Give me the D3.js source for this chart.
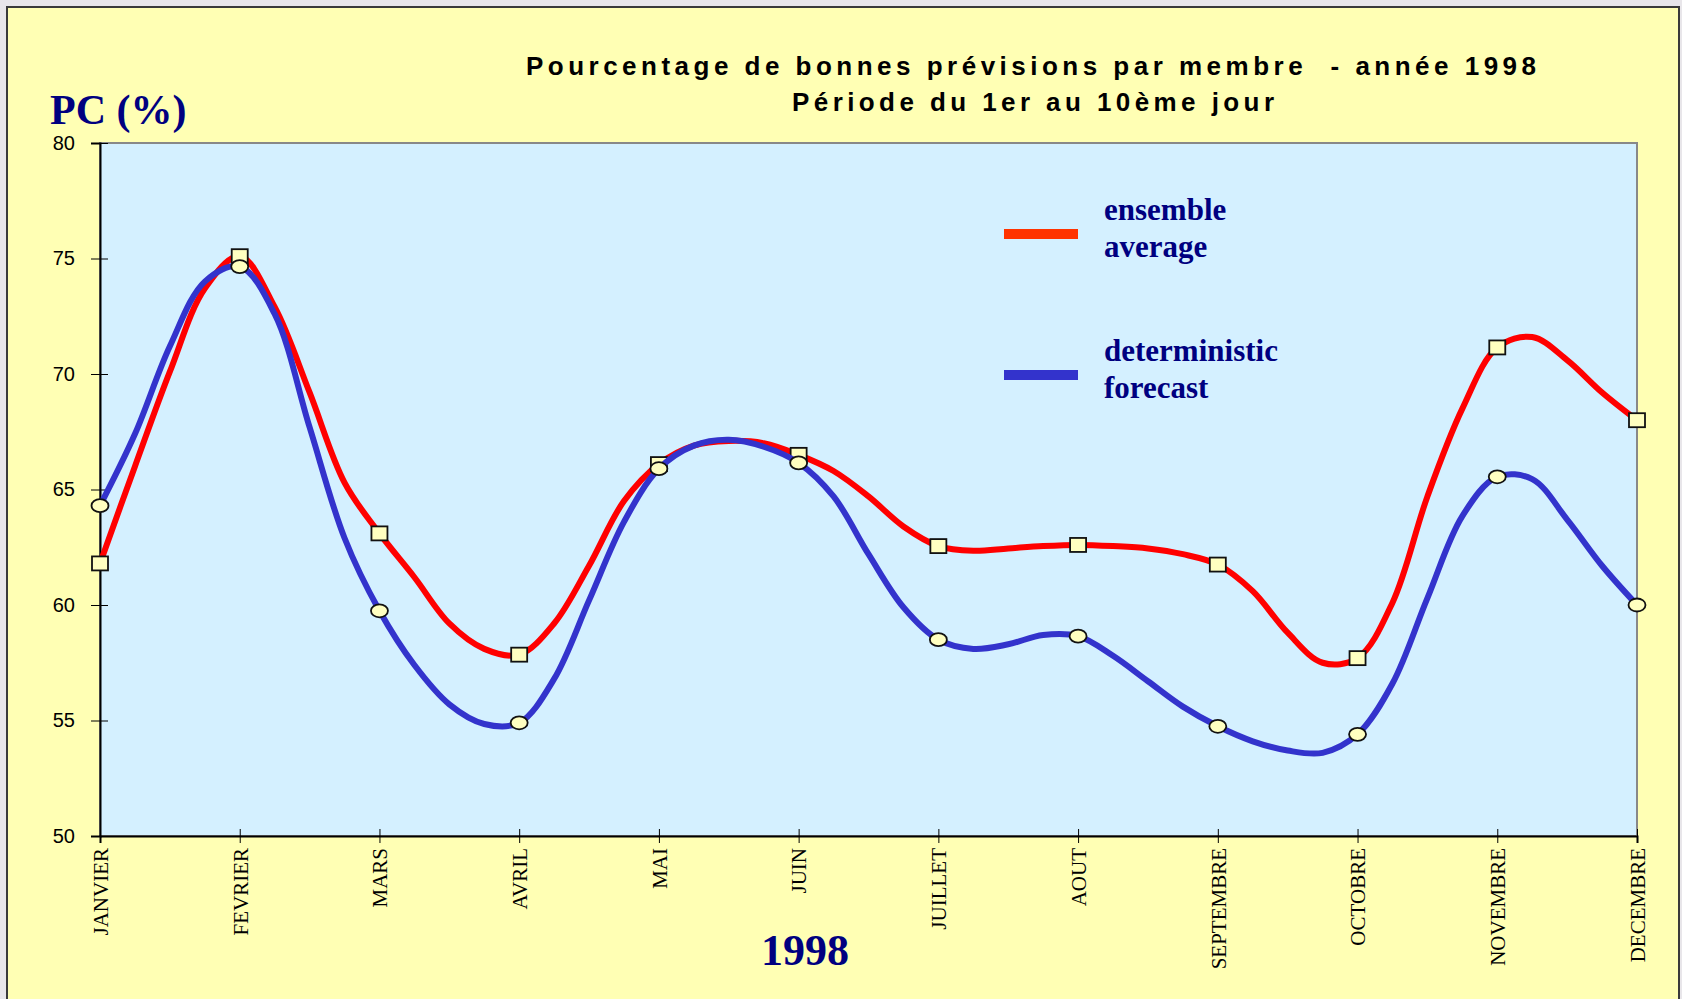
<!DOCTYPE html>
<html>
<head>
<meta charset="utf-8">
<script src="https://cdn.jsdelivr.net/npm/d3@7"></script>
<style>
  body { margin: 0; background: #e8e6ea; }
  svg { display: block; }
</style>
</head>
<body>
<script>
// month labels on the x axis
var months = ['JANVIER', 'FEVRIER', 'MARS', 'AVRIL', 'MAI', 'JUIN',
  'JUILLET', 'AOUT', 'SEPTEMBRE', 'OCTOBRE', 'NOVEMBRE', 'DECEMBRE'];

// values every quarter of a month (first of month = every 4th)
var ensembleAverage = [
  61.8, 66.0, 70.1, 73.7,
  75.1, 72.9, 69.2, 65.3,
  63.1, 61.2, 59.2, 58.1,
  57.85, 59.2, 61.7, 64.5,
  66.1, 66.9, 67.1, 67.0,
  66.5, 65.8, 64.7, 63.4,
  62.55, 62.35, 62.45, 62.55,
  62.6, 62.55, 62.45, 62.2,
  61.75, 60.6, 58.8, 57.5,
  57.7, 60.1, 64.7, 68.5,
  71.15, 71.6, 70.6, 69.2,
  68.0
];

var deterministic = [
  64.3, 67.4, 71.2, 74.0,
  74.65, 72.6, 67.7, 62.9,
  59.75, 57.4, 55.7, 54.85,
  54.9, 56.8, 60.2, 63.6,
  65.9, 66.9, 67.15, 66.85,
  66.15, 64.7, 62.2, 59.9,
  58.5, 58.1, 58.3, 58.7,
  58.65, 57.8, 56.7, 55.6,
  54.75, 54.1, 53.7, 53.6,
  54.4, 56.6, 60.3, 63.85,
  65.55, 65.45, 63.7, 61.7,
  60.0
];

var yTicks = [50, 55, 60, 65, 70, 75, 80];
var pointsPerMonth = 4;

var width = 1682;
var height = 999;

var plot = { left: 100, right: 1637, top: 143, bottom: 836 };

var x = d3.scaleLinear()
    .domain([0, months.length - 1])
    .range([plot.left, plot.right]);

var y = d3.scaleLinear()
    .domain([50, 80])
    .range([plot.bottom, plot.top]);

var svg = d3.select('body')
  .append('svg')
    .attr('width', width)
    .attr('height', height);

// yellow slide panel
svg.append('rect')
    .attr('x', 7)
    .attr('y', 7)
    .attr('width', 1672)
    .attr('height', 1010)
    .attr('fill', '#ffffb4')
    .attr('stroke', '#3a3a3a')
    .attr('stroke-width', 2);

// plot background, grey border on top and right
svg.append('rect')
    .attr('x', plot.left)
    .attr('y', plot.top)
    .attr('width', plot.right - plot.left)
    .attr('height', plot.bottom - plot.top)
    .attr('fill', '#d4f0ff')
    .attr('stroke', '#888')
    .attr('stroke-width', 2);

// titles
var title = svg.append('g')
    .attr('font-family', 'Liberation Sans, Arial, sans-serif')
    .attr('font-weight', 'bold')
    .attr('font-size', 26)
    .attr('fill', '#000');

title.append('text')
    .attr('x', 526)
    .attr('y', 75)
    .attr('textLength', 1010)
    .attr('lengthAdjust', 'spacing')
    .text('Pourcentage de bonnes prévisions par membre\u00a0\u00a0- année 1998');

title.append('text')
    .attr('x', 792)
    .attr('y', 111)
    .attr('textLength', 482)
    .attr('lengthAdjust', 'spacing')
    .text('Période du 1er au 10ème jour');

svg.append('text')
    .attr('x', 50)
    .attr('y', 124)
    .attr('font-family', 'Liberation Serif, Times New Roman, serif')
    .attr('font-weight', 'bold')
    .attr('font-size', 42)
    .attr('fill', '#000080')
    .text('PC (%)');

svg.append('text')
    .attr('x', 805)
    .attr('y', 965)
    .attr('text-anchor', 'middle')
    .attr('font-family', 'Liberation Serif, Times New Roman, serif')
    .attr('font-weight', 'bold')
    .attr('font-size', 44)
    .attr('fill', '#000080')
    .text('1998');

// axes
var yAxis = d3.axisLeft(y)
  .tickValues(yTicks)
  .tickSizeOuter(0)
  .tickSize(9)
  .tickPadding(16);

var gy = svg.append('g')
    .attr('transform', 'translate(' + plot.left + ',0)')
    .call(yAxis);

gy.selectAll('.tick line').attr('x1', 8);   // ticks cross the axis
gy.selectAll('.tick text')
    .attr('font-family', 'Liberation Sans, Arial, sans-serif')
    .attr('font-size', 20)
    .attr('fill', '#000');

var xAxis = d3.axisBottom(x)
  .tickValues(d3.range(months.length))
  .tickFormat(function(i) { return months[i]; })
  .tickSizeOuter(0)
  .tickSize(7);

var gx = svg.append('g')
    .attr('transform', 'translate(0,' + plot.bottom + ')')
    .call(xAxis);

gx.selectAll('.tick line').attr('y1', -7);
gx.selectAll('.tick text')
    .attr('font-family', 'Liberation Serif, Times New Roman, serif')
    .attr('font-size', 21)
    .attr('fill', '#000')
    .attr('transform', 'rotate(-90)')
    .attr('text-anchor', 'end')
    .attr('x', -12)
    .attr('y', 0)
    .attr('dy', '0.35em');

gx.select('.domain').attr('stroke-width', 2);
gy.select('.domain').attr('stroke-width', 2);

// lines
var line = d3.line()
  .x(function(d, i) { return x(i / pointsPerMonth); })
  .y(function(d) { return y(d); })
  .curve(d3.curveCatmullRom.alpha(0.5));

function monthly(values) {
  return values
    .map(function(v, i) { return { i: i / pointsPerMonth, v: v }; })
    .filter(function(d, i) { return i % pointsPerMonth === 0; });
}

svg.append('path')
    .datum(ensembleAverage)
    .attr('d', line)
    .attr('fill', 'none')
    .attr('stroke', '#ff0000')
    .attr('stroke-width', 6)
    .attr('stroke-linejoin', 'round');

svg.append('g')
  .selectAll('rect')
  .data(monthly(ensembleAverage))
  .join('rect')
    .attr('x', function(d) { return x(d.i) - 8; })
    .attr('y', function(d) { return y(d.v) - 7; })
    .attr('width', 16)
    .attr('height', 14)
    .attr('fill', '#ffffc0')
    .attr('stroke', '#111')
    .attr('stroke-width', 1.8);

svg.append('path')
    .datum(deterministic)
    .attr('d', line)
    .attr('fill', 'none')
    .attr('stroke', '#3333cc')
    .attr('stroke-width', 6)
    .attr('stroke-linejoin', 'round');

svg.append('g')
  .selectAll('ellipse')
  .data(monthly(deterministic))
  .join('ellipse')
    .attr('cx', function(d) { return x(d.i); })
    .attr('cy', function(d) { return y(d.v); })
    .attr('rx', 8.5)
    .attr('ry', 6.5)
    .attr('fill', '#ffffc0')
    .attr('stroke', '#111')
    .attr('stroke-width', 1.8);

// legend
var legend = svg.append('g')
    .attr('font-family', 'Liberation Serif, Times New Roman, serif')
    .attr('font-weight', 'bold')
    .attr('font-size', 31)
    .attr('fill', '#000080');

var legendItems = [
  { color: '#ff3300', lines: ['ensemble', 'average'], y: 234 },
  { color: '#3333cc', lines: ['deterministic', 'forecast'], y: 375 }
];

legendItems.forEach(function(item) {
  legend.append('rect')
      .attr('x', 1004)
      .attr('y', item.y - 5)
      .attr('width', 74)
      .attr('height', 10)
      .attr('fill', item.color);
  item.lines.forEach(function(t, k) {
    legend.append('text')
        .attr('x', 1104)
        .attr('y', item.y - 14 + k * 37)
        .text(t);
  });
});
</script>
</body>
</html>
